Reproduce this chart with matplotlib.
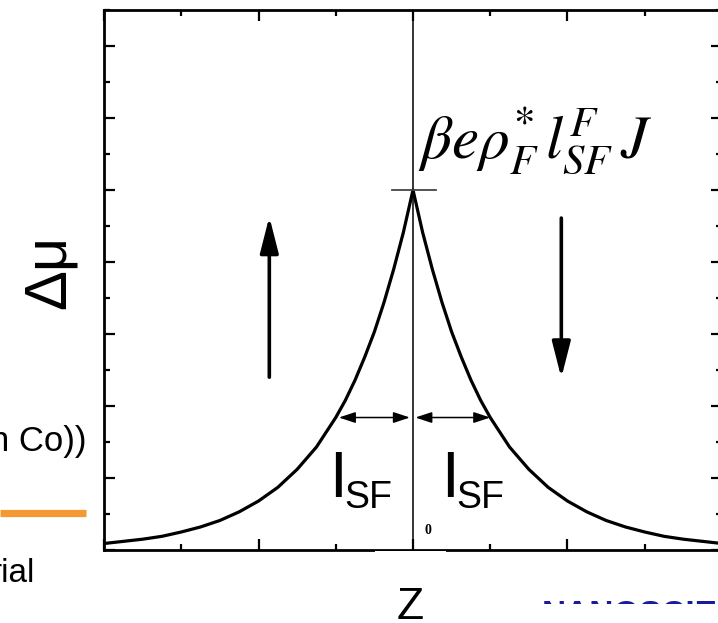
import matplotlib
matplotlib.use("Agg")
import matplotlib.pyplot as plt
from matplotlib.ticker import MultipleLocator
from matplotlib.patches import Rectangle
from matplotlib.lines import Line2D

plt.rcParams['font.family'] = ['Liberation Sans', 'DejaVu Sans']

# ---- data (z in units of l_SF) ----
z_values = [-4.0, -3.75, -3.5, -3.25, -3.0, -2.75, -2.5, -2.25, -2.0, -1.75, -1.5, -1.25,
            -1.0, -0.875, -0.75, -0.625, -0.5, -0.375, -0.25, -0.125, 0.0,
            0.125, 0.25, 0.375, 0.5, 0.625, 0.75, 0.875, 1.0,
            1.25, 1.5, 1.75, 2.0, 2.25, 2.5, 2.75, 3.0, 3.25, 3.5, 3.75, 4.0]
dmu_values = [0.09, 0.12, 0.15, 0.19, 0.25, 0.32, 0.41, 0.53, 0.68, 0.87, 1.12, 1.43,
              1.84, 2.08, 2.36, 2.68, 3.03, 3.44, 3.90, 4.41, 5.00,
              4.41, 3.90, 3.44, 3.03, 2.68, 2.36, 2.08, 1.84,
              1.43, 1.12, 0.87, 0.68, 0.53, 0.41, 0.32, 0.25, 0.19, 0.15, 0.12, 0.09]
peak_value = 5.0
lsf_value = 1.0
lsf_level = 1.84
up_arrow = (-1.86, 2.40, 4.63)     # z, from, to
down_arrow = (1.92, 4.61, 2.39)
formula = r'$\beta e\rho^{*}_{F}\,l^{F}_{SF}\,J$'

W, H = 718, 623
def fx(px):
    return px / W
def fy(py):
    return 1 - py / H

fig = plt.figure(figsize=(W / 100, H / 100), dpi=100)
fig.patch.set_facecolor('white')

ax = fig.add_axes([fx(104), fy(550), (722 - 104) / W, (550 - 10) / H])
ax.set_xlim(-4, 4)
ax.set_ylim(0, 7.5)

ax.plot(z_values, dmu_values, color='black', lw=2.3, solid_joinstyle='round')
ax.axvline(0, color='black', lw=1.1)

# little horizontal bar at the peak
ax.plot([-0.27, 0.30], [peak_value, peak_value], color='#444444', lw=1.3)

# big arrows
for (zx, y0, y1) in (up_arrow, down_arrow):
    ax.annotate('', xy=(zx, y1), xytext=(zx, y0),
                arrowprops=dict(arrowstyle='-|>,head_length=1.1,head_width=0.28',
                                mutation_scale=20, lw=2.6, color='black',
                                shrinkA=0, shrinkB=0))

# double arrows showing l_SF
for (a, b) in ((-lsf_value * 0.96, -0.04), (0.03, lsf_value)):
    ax.annotate('', xy=(b, lsf_level), xytext=(a, lsf_level),
                arrowprops=dict(arrowstyle='<|-|>,head_length=1.0,head_width=0.33',
                                mutation_scale=10, lw=1.1, color='black',
                                shrinkA=0, shrinkB=0))

ax.xaxis.set_major_locator(MultipleLocator(2))
ax.xaxis.set_minor_locator(MultipleLocator(1))
ax.yaxis.set_major_locator(MultipleLocator(1))
ax.yaxis.set_minor_locator(MultipleLocator(0.5))
ax.tick_params(which='both', direction='in', top=True, right=True,
               labelbottom=False, labelleft=False, width=1.6)
ax.tick_params(which='major', length=8)
ax.tick_params(which='minor', length=4.5)
for s in ax.spines.values():
    s.set_linewidth(2.0)

# texts
fig.text(fx(49), fy(272), 'Δμ', rotation=90, ha='center', va='center', fontsize=43)
fig.text(fx(418), fy(158), formula, ha='left', va='baseline', fontsize=44,
         math_fontfamily='stix')
for x0 in (333, 445):
    fig.text(fx(x0 - 4), fy(497), 'I', ha='left', va='baseline', fontsize=46)
    fig.text(fx(x0 + 11), fy(508), 'SF', ha='left', va='baseline', fontsize=27)
fig.text(fx(428), fy(534), '0', ha='center', va='baseline', fontsize=10,
         fontweight='bold', family='Liberation Serif')
fig.text(fx(410), fy(619), 'Z', ha='center', va='baseline', fontsize=32)

fig.text(fx(86), fy(451), 'n Co))', ha='right', va='baseline', fontsize=25)
fig.text(fx(35), fy(582), 'rial', ha='right', va='baseline', fontsize=24)
fig.add_artist(Line2D([fx(0), fx(86)], [fy(513), fy(513)], color='#F59A32', lw=5.2,
                      solid_capstyle='butt'))

# blue footer text, mostly hidden
fig.text(fx(542), fy(600), 'NANOSCIENCE', ha='left', va='top', fontsize=24,
         fontweight='bold', color='#1a1a9c')
fig.add_artist(Rectangle((fx(520), 0), fx(718) - fx(520), fy(604), facecolor='white',
                         edgecolor='none', transform=fig.transFigure, zorder=10))
# white gap in the bottom spine below the zero
fig.add_artist(Rectangle((fx(375), fy(556)), fx(446) - fx(375), fy(551) - fy(556),
                         facecolor='white', edgecolor='none', transform=fig.transFigure,
                         zorder=10))

fig.savefig('out.png', dpi=100, facecolor='white')
